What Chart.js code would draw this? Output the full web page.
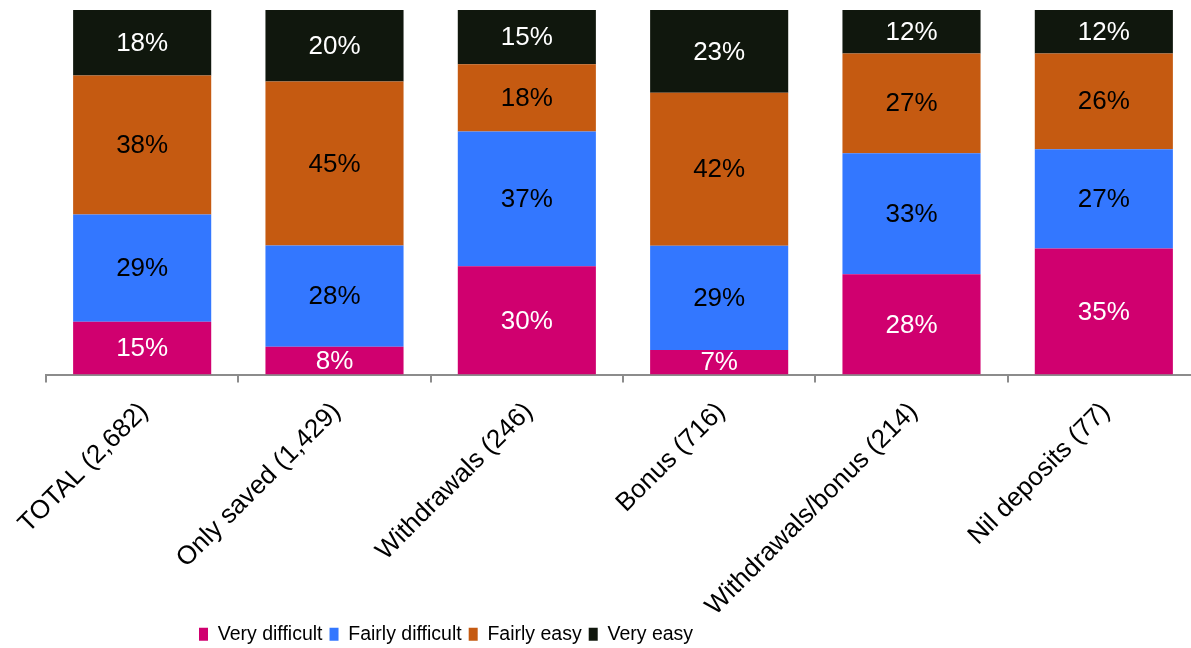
<!DOCTYPE html>
<html>
<head>
<meta charset="utf-8">
<title>Ease of use by group</title>
<script src="https://cdn.jsdelivr.net/npm/chart.js@4/dist/chart.umd.min.js"></script>
<style>
  html, body { margin: 0; padding: 0; background: #fff; overflow: hidden; }
  #chart-wrap { width: 1200px; height: 648px; }
</style>
</head>
<body>
<div id="chart-wrap"><canvas id="ease-chart" width="1200" height="648"></canvas></div>
<script>
// Categories (bottom axis)
const groups = ['TOTAL (2,682)', 'Only saved (1,429)', 'Withdrawals (246)', 'Bonus (716)', 'Withdrawals/bonus (214)', 'Nil deposits (77)'];

// Share of respondents, % (stacked bottom -> top)
const veryDifficult   = [14.5, 7.6, 29.7, 6.7, 27.5, 34.6];
const fairlyDifficult = [29.4, 27.8, 37.0, 28.6, 33.2, 27.2];
const fairlyEasy      = [38.1, 45.0, 18.4, 42.0, 27.4, 26.3];
const veryEasy        = [18.0, 19.6, 14.9, 22.7, 11.9, 11.9];

const seriesNames = ['Very difficult', 'Fairly difficult', 'Fairly easy', 'Very easy'];

const FONT = '"Liberation Sans", Arial, sans-serif';

const barColours = ['#d0006f', '#3377ff', '#c55a11', '#10170d'];
const labelColours = ['#ffffff', '#000000', '#000000', '#ffffff'];
const axisGrey = '#8c8c8c';

// Draws the rounded percentage in the middle of every segment
const segmentLabels = {
  id: 'segmentLabels',
  afterDatasetsDraw(chart) {
    const ctx = chart.ctx;
    ctx.save();
    ctx.font = '26px ' + FONT;
    ctx.textAlign = 'center';
    ctx.textBaseline = 'middle';
    chart.data.datasets.forEach((ds, i) => {
      chart.getDatasetMeta(i).data.forEach((bar, j) => {
        ctx.fillStyle = labelColours[i];
        ctx.fillText(Math.round(ds.data[j]) + '%', bar.x, (bar.y + bar.base) / 2 + 1);
      });
    });
    ctx.restore();
  }
};

// Legend sits left of centre in the original; long rotated labels run down
// next to it, so the x axis label clip is opened to the bottom of the canvas
const layoutTweaks = {
  id: 'layoutTweaks',
  afterLayout(chart) {
    const lg = chart.legend;
    lg.left = 192;
    lg.top += 6;
    lg.bottom += 6;
    chart.scales.x.bottom = chart.height;
  }
};

new Chart(document.getElementById('ease-chart'), {
  type: 'bar',
  data: {
    labels: groups,
    datasets: [veryDifficult, fairlyDifficult, fairlyEasy, veryEasy].map((values, i) => ({
      label: seriesNames[i],
      data: values,
      backgroundColor: barColours[i],
      borderWidth: 0,
      barPercentage: 0.718,
      categoryPercentage: 1
    }))
  },
  options: {
    responsive: false,
    animation: false,
    layout: { padding: { left: 46, top: 10, right: 0, bottom: 0 } },
    plugins: {
      tooltip: { enabled: false },
      legend: {
        position: 'bottom',
        align: 'start',
        labels: {
          boxWidth: 9,
          boxHeight: 13,
          padding: 7,
          color: '#000',
          font: { family: FONT, size: 19.5 }
        }
      }
    },
    scales: {
      x: {
        stacked: true,
        grid: {
          display: true,
          drawOnChartArea: false,
          drawTicks: true,
          tickLength: 8,
          color: axisGrey,
          lineWidth: 2,
          offset: true
        },
        border: { display: true, color: axisGrey, width: 2 },
        ticks: {
          autoSkip: false,
          minRotation: 45,
          maxRotation: 45,
          padding: 14,
          labelOffset: 2,
          color: '#000',
          font: { family: FONT, size: 26 }
        },
        afterFit(scale) {
          scale.height = 237;
          scale.paddingLeft = 0;
          scale.paddingRight = 0;
        }
      },
      y: {
        stacked: true,
        display: false,
        min: 0,
        max: 100
      }
    }
  },
  plugins: [segmentLabels, layoutTweaks]
});
</script>
</body>
</html>
